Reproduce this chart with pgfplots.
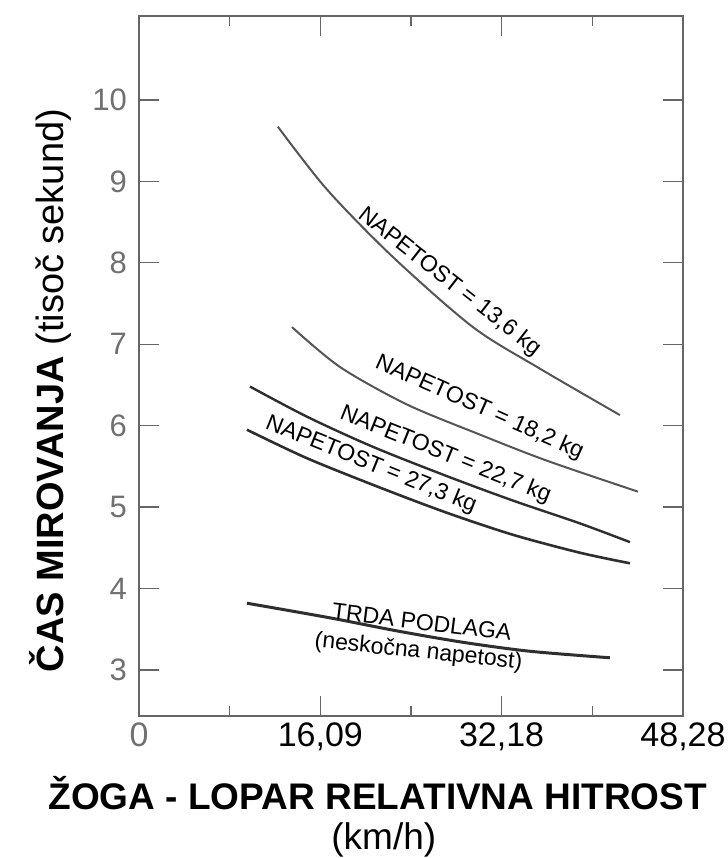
\documentclass[border=0pt]{standalone}
\usepackage{pgfplots}
\pgfplotsset{compat=1.18}
\usepackage{fontspec}
\setmainfont{Liberation Sans}
\definecolor{axgray}{HTML}{666666}
\definecolor{tickgray}{HTML}{707070}
\definecolor{c1}{HTML}{555555}
\definecolor{c2}{HTML}{2E2E2E}
\begin{document}
\begin{tikzpicture}[x=0.5pt,y=0.5pt]
\path[use as bounding box] (0,0) rectangle (728,858);
\begin{axis}[at={(69.5pt,71pt)}, anchor=south west, scale only axis,
 width=272pt, height=350pt,
 xmin=0, xmax=48.28, ymin=2.435, ymax=11.03,
 xtick={0,16.09,32.18,48.28},
 xticklabels={{\textcolor{tickgray}{0}},{16,09},{32,18},{48,28}},
 minor xtick={8.045,24.135,40.225},
 ytick={3,4,5,6,7,8,9,10}, yticklabels={3,4,5,6,7,8,9,10},
 tick align=inside, tick pos=both,
 major tick length=10pt, minor tick length=5pt,
 axis line style={axgray, line width=0.7pt},
 every tick/.style={axgray, line width=0.7pt},
 yticklabel style={font=\fontsize{15.5}{18}\selectfont, text=tickgray, xshift=-2.5pt},
 xticklabel style={font=\fontsize{17}{20}\selectfont, inner sep=3pt},
 clip=false,
]
% NAPETOST = 13,6 kg
\addplot[c1, line width=1pt, smooth] coordinates {
(12.33,9.67) (16.68,8.90) (22.54,8.07) (29.64,7.21) (35.58,6.70) (42.68,6.13)};
% NAPETOST = 18,2 kg
\addplot[c1, line width=1pt, smooth] coordinates {
(13.58,7.21) (17.84,6.72) (23.78,6.26) (30.26,5.89) (36.20,5.57) (44.28,5.19)};
% NAPETOST = 22,7 kg
\addplot[c2, line width=1.2pt, smooth] coordinates {
(9.85,6.48) (14.91,6.11) (20.76,5.74) (27.33,5.38) (33.19,5.08) (39.13,4.80) (43.57,4.57)};
% NAPETOST = 27,3 kg
\addplot[c2, line width=1.3pt, smooth] coordinates {
(9.58,5.95) (14.91,5.60) (21.38,5.24) (27.33,4.93) (33.19,4.66) (39.13,4.44) (43.57,4.31)};
% TRDA PODLAGA
\addplot[c2, line width=1.5pt, smooth] coordinates {
(9.58,3.82) (16.95,3.64) (22.89,3.48) (28.75,3.34) (34.69,3.23) (41.79,3.15)};

\node[rotate=-38, font=\fontsize{11.5}{13}\selectfont] at (axis cs:27.6,7.76) {NAPETOST = 13,6 kg};
\node[rotate=-24, font=\fontsize{11.5}{13}\selectfont] at (axis cs:30.2,6.22) {NAPETOST = 18,2 kg};
\node[rotate=-22, font=\fontsize{11.5}{13}\selectfont] at (axis cs:27.2,5.64) {NAPETOST = 22,7 kg};
\node[rotate=-22, font=\fontsize{11.5}{13}\selectfont] at (axis cs:20.6,5.52) {NAPETOST = 27,3 kg};
\node[rotate=-7, font=\fontsize{11.5}{13}\selectfont] at (axis cs:25.1,3.59) {TRDA PODLAGA};
\node[rotate=-6, font=\fontsize{11.5}{13}\selectfont] at (axis cs:24.8,3.22) {(neskočna napetost)};

\node[rotate=90, font=\fontsize{19}{22}\selectfont] at (rel axis cs:-0.162,0.465) {\textbf{ČAS MIROVANJA} (tisoč sekund)};
\node[anchor=base, font=\bfseries\fontsize{18.5}{22}\selectfont] at (rel axis cs:0.439,-0.134) {ŽOGA - LOPAR RELATIVNA HITROST};
\node[anchor=base, font=\fontsize{18.5}{22}\selectfont] at (rel axis cs:0.45,-0.191) {(km/h)};
\end{axis}
\end{tikzpicture}
\end{document}
